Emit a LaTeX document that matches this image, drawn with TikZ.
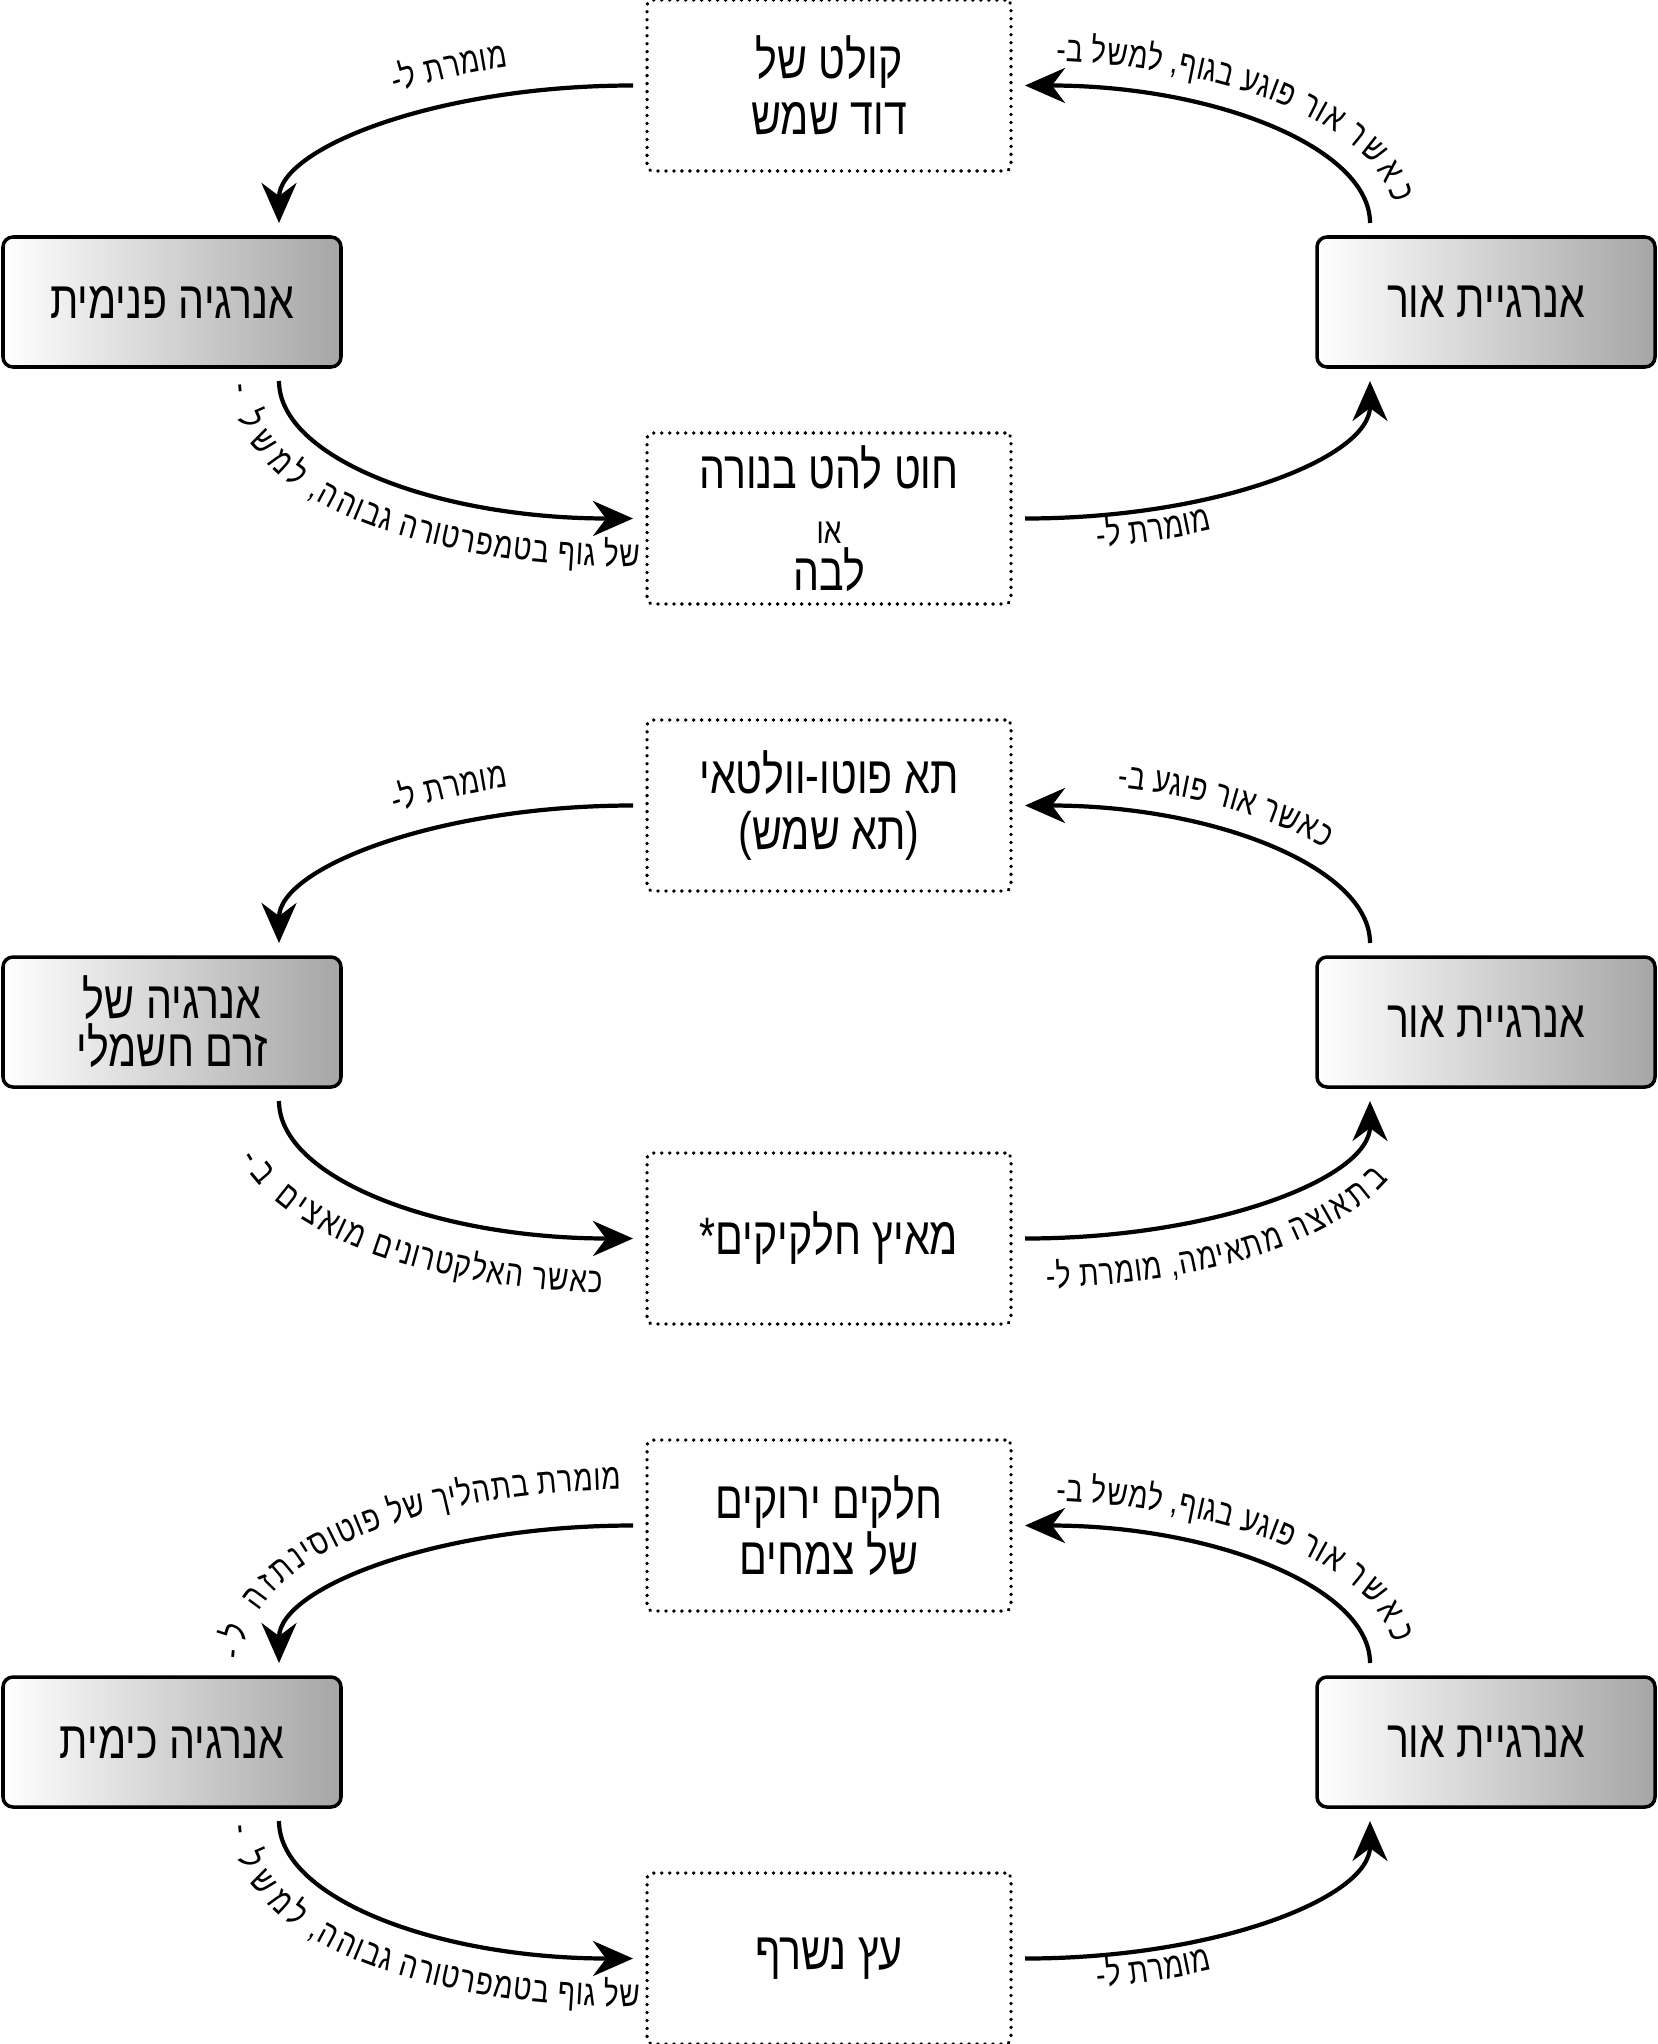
\documentclass[tikz,border=0pt]{standalone}
\usepackage{fontspec}
\setmainfont{Liberation Sans}[Script=Hebrew, FakeStretch=0.78]
\usetikzlibrary{positioning,calc,arrows.meta,decorations.text}
\TeXXeTstate=1
\newcommand\heb[1]{\beginR#1\endR}
\newcommand\lblfont{\fontsize{10.2pt}{12pt}\selectfont}
\ExplSyntaxOn
\cs_new:Npn \revtext \beginR #1 \endR { \tl_reverse:n {#1} }
\ExplSyntaxOff
\tikzstyle{energybox}=[draw, line width=1pt, rounded corners=1mm, left color=white, right color=black!35,
  minimum width=3.38cm, minimum height=1.3cm, outer sep=1.4mm, align=center]
\tikzstyle{devicebox}=[draw, line width=1pt, dash pattern=on 0.1pt off 2.17pt, line cap=round, rounded corners=0.6mm,
  minimum width=3.64cm, minimum height=1.71cm, outer sep=1.4mm, align=center]
\tikzset{
  upleft/.style={out=90, in=180, out distance=0.75cm, in distance=1.96cm},
  upright/.style={out=0, in=90, out distance=1.90cm, in distance=0.75cm},
  downleft/.style={out=270, in=180, out distance=0.77cm, in distance=1.96cm},
  downright/.style={out=0, in=270, out distance=1.90cm, in distance=0.77cm},
  curvetext/.style n args={3}{postaction={decorate, decoration={text along path,
    text/.expanded={|\noexpand\lblfont|\revtext#1}, text align={left, left indent=#2}, raise=#3}}}
}

\begin{document}
\begin{tikzpicture}[line width=1.2pt, >={Stealth[length=4mm,width=3.5mm,inset=1.3mm]},
    font=\fontsize{15pt}{16pt}\selectfont]
  \useasboundingbox (0,0) rectangle (16.58,-20.44);

  \node[energybox] (heat) at (1.72,-3.02) {\heb{אנרגיה פנימית}};
  \node[energybox] (light1) [right=9.48cm of heat] {\heb{אנרגיית אור}};
  \coordinate (mid1) at ($(heat)!0.5!(light1)$);
  \node[devicebox] (collector) [above=1.17cm of mid1] {\heb{קולט של}\\\heb{דוד שמש}};
  \node[devicebox] (bulb) [below=1.17cm of mid1] {\heb{חוט להט בנורה}\\[-0.4pt]{\lblfont\heb{או}}\\[-2.7pt]\heb{לבה}};

  \path ([xshift=1.07cm]heat.north) edge[<-, upleft, curvetext={\beginR מומרת ל-\endR}{1.72cm}{2.7mm}] (collector.west)
        (collector.east) edge[<-, upright, curvetext={\beginR כאשר אור פוגע בגוף, למשל ב-\endR}{0.3cm}{2.5mm}] ([xshift=-1.16cm]light1.north)
        ([xshift=1.07cm]heat.south) edge[->, downleft, curvetext={\beginR של גוף בטמפרטורה גבוהה, למשל -\endR}{0cm}{-4.8mm}] (bulb.west)
        (bulb.east) edge[->, downright, curvetext={\beginR מומרת ל-\endR}{0.7cm}{-3.2mm}] ([xshift=-1.16cm]light1.south);

  \node[energybox] (electric) [below=5.62cm of heat] {\heb{אנרגיה של}\\[-2.4pt]\heb{זרם חשמלי}};
  \node[energybox] (light2) [right=9.48cm of electric] {\heb{אנרגיית אור}};
  \coordinate (mid2) at ($(electric)!0.5!(light2)$);
  \node[devicebox] (pvcell) [above=1.17cm of mid2] {\heb{תא פוטו-וולטאי}\\\heb{(תא שמש)}};
  \node[devicebox] (accel) [below=1.17cm of mid2] {\heb{מאיץ חלקיקים*}};

  \path ([xshift=1.07cm]electric.north) edge[<-, upleft, curvetext={\beginR מומרת ל-\endR}{1.72cm}{2.7mm}] (pvcell.west)
        (pvcell.east) edge[<-, upright, curvetext={\beginR כאשר אור פוגע ב-\endR}{0.9cm}{2.3mm}] ([xshift=-1.16cm]light2.north)
        ([xshift=1.07cm]electric.south) edge[->, downleft, curvetext={\beginR כאשר האלקטרונים מואצים ב-\endR}{0.3cm}{-5.5mm}] (accel.west)
        (accel.east) edge[->, downright, curvetext={\beginR בתאוצה מתאימה, מומרת ל-\endR}{0.2cm}{-5mm}] ([xshift=-1.16cm]light2.south);

  \node[energybox] (chemical) [below=5.62cm of electric] {\heb{אנרגיה כימית}};
  \node[energybox] (light3) [right=9.48cm of chemical] {\heb{אנרגיית אור}};
  \coordinate (mid3) at ($(chemical)!0.5!(light3)$);
  \node[devicebox] (leaves) [above=1.17cm of mid3] {\heb{חלקים ירוקים}\\\heb{של צמחים}};
  \node[devicebox] (wood) [below=1.17cm of mid3] {\heb{עץ נשרף}};

  \path ([xshift=1.07cm]chemical.north) edge[<-, upleft, curvetext={\beginR מומרת בתהליך של פוטוסינתזה ל-\endR}{0cm}{3.6mm}] (leaves.west)
        (leaves.east) edge[<-, upright, curvetext={\beginR כאשר אור פוגע בגוף, למשל ב-\endR}{0.3cm}{2.5mm}] ([xshift=-1.16cm]light3.north)
        ([xshift=1.07cm]chemical.south) edge[->, downleft, curvetext={\beginR של גוף בטמפרטורה גבוהה, למשל -\endR}{0cm}{-4.8mm}] (wood.west)
        (wood.east) edge[->, downright, curvetext={\beginR מומרת ל-\endR}{0.7cm}{-3.2mm}] ([xshift=-1.16cm]light3.south);
\end{tikzpicture}
\end{document}
